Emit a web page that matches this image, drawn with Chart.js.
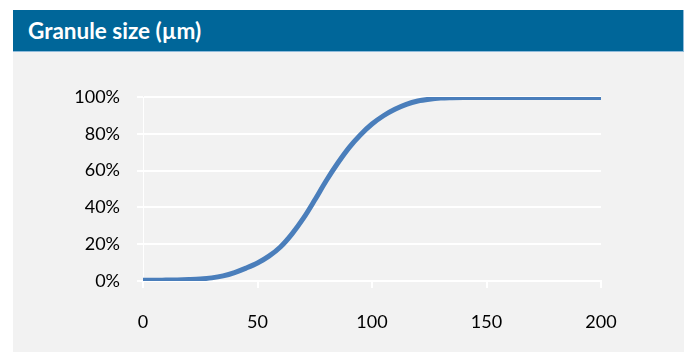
<!DOCTYPE html>
<html>
<head>
<meta charset="utf-8">
<script src="https://cdn.jsdelivr.net/npm/chart.js@4/dist/chart.umd.min.js"></script>
<style>
  html, body { margin: 0; padding: 0; background: #fff; }
  body { width: 689px; height: 352px; position: relative; overflow: hidden; font-family: Lato, sans-serif; }
  #header {
    position: absolute; left: 13px; top: 10px; width: 671px; height: 42px;
    background: #006699; border-bottom: 1px solid #8fbbdb; border-right: 1px solid #8fbbdb;
    color: #fff; font-weight: bold; font-size: 22.5px; line-height: 42px;
    box-sizing: border-box; padding-left: 15px;
  }
  #panel { position: absolute; left: 13px; top: 52px; width: 671px; height: 300px; background: #f2f2f2; }
  canvas { display: block; }
</style>
</head>
<body>
<div id="header">Granule size (µm)</div>
<div id="panel"><canvas id="chart" width="671" height="300"></canvas></div>
<script>
// granule size (µm) vs cumulative share (%)
const sizes = [0, 5, 10, 15, 20, 25, 30, 35, 40, 45, 50, 55, 60, 65, 70, 75, 80, 85, 90, 95, 100,
  105, 110, 115, 120, 125, 130, 135, 140, 150, 160, 170, 180, 190, 200];
const cumulative = [0.4, 0.4, 0.5, 0.6, 0.8, 1.1, 1.7, 2.8, 4.6, 7, 9.8, 13.5, 18.5, 25.5, 34, 44, 54.5, 64, 72.5, 79.5, 85.3,
  89.8, 93.3, 96, 97.8, 98.8, 99.4, 99.6, 99.7, 99.7, 99.7, 99.7, 99.7, 99.7, 99.7];
const xTicks = [0, 50, 100, 150, 200];
const yTicks = [0, 20, 40, 60, 80, 100];

const points = sizes.map((s, i) => ({ x: s, y: cumulative[i] }));
const font = { family: 'Lato, sans-serif', size: 18 };

const ctx = document.getElementById('chart').getContext('2d');
new Chart(ctx, {
  type: 'line',
  data: {
    datasets: [{
      data: points,
      borderColor: '#4a7ebb',
      borderWidth: 5,
      pointRadius: 0,
      cubicInterpolationMode: 'monotone',
      fill: false
    }]
  },
  options: {
    responsive: false,
    animation: false,
    layout: { padding: { left: 0, right: 83, top: 45, bottom: 0 } },
    plugins: { legend: { display: false }, tooltip: { enabled: false } },
    scales: {
      x: {
        type: 'linear',
        min: 0, max: 200,
        afterBuildTicks: (axis) => { axis.ticks = xTicks.map(v => ({ value: v })); },
        afterFit: (axis) => { axis.height = 71; },
        grid: { drawOnChartArea: false, drawTicks: true, tickLength: 7, color: '#ffffff', lineWidth: 2 },
        border: { color: '#ffffff', width: 2 },
        ticks: { color: '#000', font: font, padding: 23, maxRotation: 0 }
      },
      y: {
        min: 0, max: 100,
        afterBuildTicks: (axis) => { axis.ticks = yTicks.map(v => ({ value: v })); },
        afterFit: (axis) => { axis.width = 130; },
        grid: { color: '#ffffff', lineWidth: 2, tickLength: 6 },
        border: { color: '#ffffff', width: 1 },
        ticks: { color: '#000', font: font, padding: 17, callback: (v) => v + '%' }
      }
    }
  }
});
</script>
</body>
</html>
